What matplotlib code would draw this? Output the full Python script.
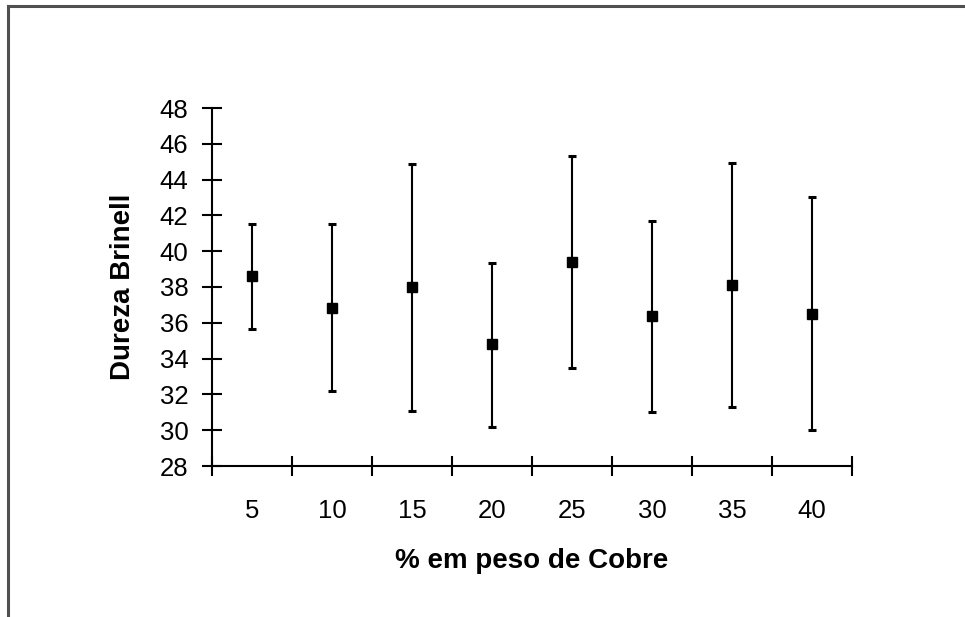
import numpy as np
import matplotlib

matplotlib.use('Agg')
from matplotlib import pyplot as plt
from matplotlib.lines import Line2D

# % em peso de Cobre (categories) and Brinell hardness readings
categories = ['5', '10', '15', '20', '25', '30', '35', '40']
dureza = [38.6, 36.8, 38.0, 34.8, 39.4, 36.4, 38.1, 36.5]
upper = [41.5, 41.5, 44.85, 39.35, 45.3, 41.7, 44.95, 43.05]
lower = [35.65, 32.2, 31.1, 30.2, 33.45, 31.0, 31.3, 30.0]
yticks = list(range(28, 49, 2))

plt.rcParams['font.family'] = ['Liberation Sans', 'DejaVu Sans']

fig = plt.figure(figsize=(9.65, 6.17), dpi=100)
ax = fig.add_axes([212 / 965, 1 - 466 / 617, 640 / 965, 358 / 617])

pos = np.arange(1, len(categories) + 1)
yerr = [np.array(dureza) - np.array(lower), np.array(upper) - np.array(dureza)]
ax.errorbar(pos, dureza, yerr=yerr, fmt='s', color='black', markersize=7.5,
            elinewidth=1.5, capsize=2.6, capthick=2.2, ecolor='black')

ax.set_xlim(0.5, len(categories) + 0.5)
ax.set_ylim(28, 48)

# category boundaries get the tick marks, centres get the labels (Excel style)
ax.set_xticks(np.arange(0.5, len(categories) + 1, 1))
ax.set_xticklabels([])
ax.set_xticks(pos, minor=True)
ax.set_xticklabels(categories, minor=True)
ax.tick_params(axis='x', which='major', direction='inout', length=14, width=1.5)
ax.tick_params(axis='x', which='minor', length=0, pad=24, labelsize=18.5)

ax.set_yticks(yticks)
ax.tick_params(axis='y', direction='inout', length=14, width=1.5, pad=10, labelsize=18.5)

for side in ['top', 'right']:
    ax.spines[side].set_visible(False)
for side in ['left', 'bottom']:
    ax.spines[side].set_linewidth(1.5)

ax.set_xlabel('% em peso de Cobre', fontsize=20, fontweight='bold', labelpad=18)
ax.set_ylabel('Dureza Brinell', fontsize=20, fontweight='bold', labelpad=17)

# frame of the original figure (only top and left edges inside the crop)
fig.add_artist(Line2D([8 / 965, 1], [1 - 6 / 617, 1 - 6 / 617], color='#505050', lw=2.2,
                      transform=fig.transFigure))
fig.add_artist(Line2D([8 / 965, 8 / 965], [0, 1 - 6 / 617], color='#505050', lw=2.2,
                      transform=fig.transFigure))

plt.savefig('out.png', dpi=100)
plt.close()
